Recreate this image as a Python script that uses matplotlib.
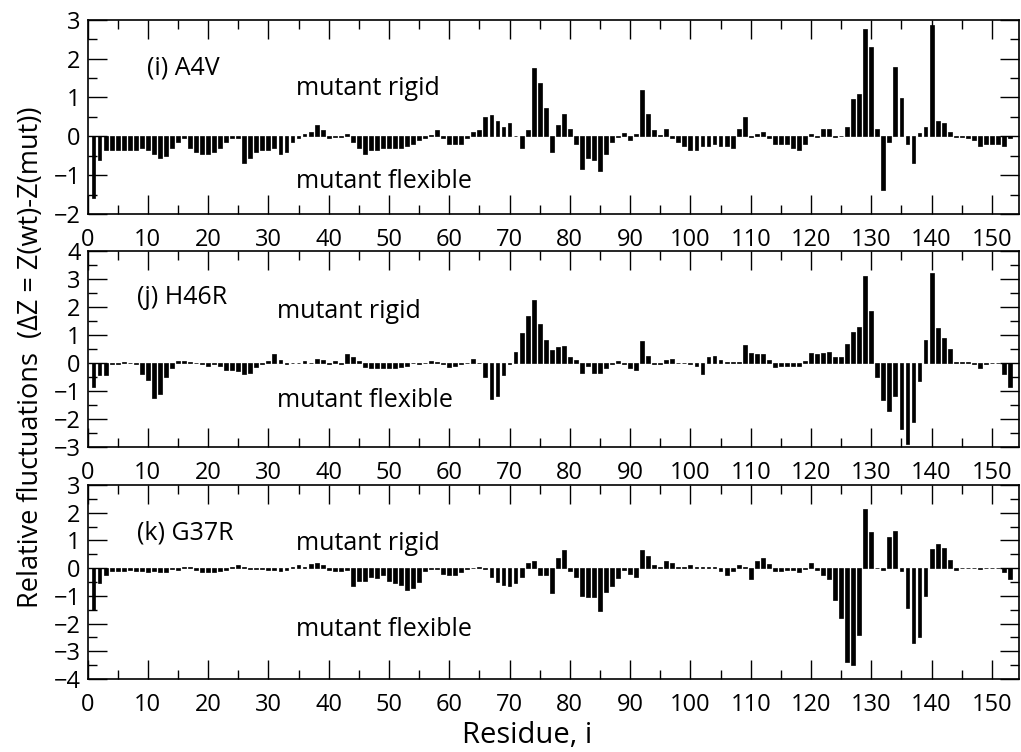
import matplotlib
matplotlib.use("Agg")
import matplotlib.pyplot as plt
from matplotlib.ticker import MultipleLocator
import numpy as np

plt.rcParams['font.family'] = ['Open Sans', 'DejaVu Sans']

residues = np.arange(1, 154)

# (i) A4V
dz_a4v = [
    -1.6, -0.6, -0.35, -0.35, -0.35, -0.35, -0.35, -0.35, -0.3, -0.35,
    -0.45, -0.55, -0.5, -0.3, -0.15, -0.05, -0.3, -0.4, -0.45, -0.45,
    -0.4, -0.3, -0.15, -0.05, -0.05, -0.7, -0.55, -0.4, -0.35, -0.35,
    -0.3, -0.45, -0.4, -0.15, -0.05, 0.05, 0.1, 0.3, 0.15, -0.05,
    -0.03, -0.03, 0.05, -0.15, -0.3, -0.45, -0.35, -0.35, -0.3, -0.3,
    -0.3, -0.3, -0.25, -0.2, -0.1, -0.05, 0.03, 0.15, -0.05, -0.2,
    -0.2, -0.2, -0.05, 0.1, 0.15, 0.5, 0.55, 0.4, 0.25, 0.35,
    0.02, -0.3, 0.15, 1.77, 1.37, 0.73, -0.4, 0.3, 0.57, 0.2,
    -0.2, -0.84, -0.55, -0.6, -0.9, -0.45, -0.15, -0.02, 0.08, -0.1,
    0.07, 1.18, 0.57, 0.15, 0.03, 0.2, -0.05, -0.15, -0.25, -0.35,
    -0.35, -0.25, -0.25, -0.2, -0.25, -0.25, -0.3, 0.2, 0.5, -0.02,
    0.05, 0.1, -0.05, -0.2, -0.2, -0.2, -0.3, -0.35, -0.2, 0.05,
    -0.02, 0.2, 0.2, -0.02, 0.02, 0.25, 0.96, 1.1, 2.77, 2.31,
    0.2, -1.37, -0.15, 1.78, 0.99, -0.2, -0.69, 0.08, 0.25, 2.87,
    0.4, 0.35, 0.1, -0.02, -0.03, -0.05, -0.1, -0.25, -0.2, -0.2,
    -0.2, -0.25, -0.05,
]

# (j) H46R
dz_h46r = [
    -0.88, -0.45, -0.45, -0.05, -0.03, 0.02, -0.02, -0.05, -0.4, -0.6,
    -1.25, -1.1, -0.5, -0.2, 0.05, 0.08, 0.03, -0.02, -0.03, -0.1,
    -0.05, -0.1, -0.25, -0.25, -0.3, -0.4, -0.35, -0.15, -0.05, 0.05,
    0.3, 0.1, -0.03, -0.02, -0.02, 0.08, -0.02, 0.15, 0.1, -0.05,
    0.05, -0.05, 0.3, 0.2, 0.05, -0.15, -0.2, -0.2, -0.2, -0.2,
    -0.2, -0.15, -0.1, -0.02, -0.05, -0.02, 0.05, 0.03, -0.05, -0.15,
    -0.1, -0.05, -0.02, 0.15, -0.02, -0.5, -1.28, -1.2, -0.45, -0.05,
    0.4, 1.07, 1.69, 2.25, 1.4, 0.8, 0.45, 0.55, 0.6, 0.2,
    0.1, -0.35, -0.1, -0.35, -0.35, -0.2, -0.05, 0.08, -0.05, -0.2,
    -0.25, 0.77, 0.25, -0.03, -0.05, 0.1, 0.15, -0.02, -0.02, -0.03,
    -0.1, -0.4, 0.2, 0.25, 0.1, 0.02, 0.02, 0.02, 0.65, 0.35,
    0.3, 0.3, 0.1, -0.15, -0.1, -0.1, -0.1, -0.1, 0.05, 0.35,
    0.3, 0.35, 0.4, 0.2, 0.2, 0.68, 1.12, 1.28, 3.12, 1.87,
    -0.51, -1.32, -1.73, -1.19, -2.37, -2.9, -2.1, -0.65, 0.82, 3.2,
    1.25, 0.9, 0.49, 0.03, 0.03, 0.02, -0.03, -0.19, -0.05, -0.02,
    -0.02, -0.39, -0.87,
]

# (k) G37R
dz_g37r = [
    -1.5, -0.55, -0.25, -0.1, -0.1, -0.1, -0.08, -0.1, -0.1, -0.12,
    -0.1, -0.15, -0.12, -0.03, -0.05, 0.05, 0.03, -0.05, -0.12, -0.15,
    -0.12, -0.1, -0.05, 0.05, 0.12, 0.05, -0.02, -0.03, -0.03, -0.05,
    -0.05, -0.1, -0.05, 0.05, 0.1, 0.03, 0.15, 0.2, 0.1, -0.05,
    -0.1, -0.1, -0.05, -0.64, -0.45, -0.45, -0.3, -0.35, -0.25, -0.45,
    -0.55, -0.6, -0.8, -0.7, -0.5, -0.1, -0.02, -0.02, -0.2, -0.25,
    -0.25, -0.15, -0.02, 0.02, 0.03, -0.03, -0.3, -0.5, -0.6, -0.65,
    -0.55, -0.3, 0.2, 0.25, -0.25, -0.25, -0.88, 0.38, 0.65, -0.1,
    -0.3, -1.0, -1.05, -1.05, -1.55, -0.85, -0.65, -0.35, -0.05, -0.2,
    -0.3, 0.65, 0.45, 0.1, 0.03, 0.25, 0.2, 0.03, 0.03, 0.1,
    0.05, 0.05, 0.05, 0.05, -0.1, -0.25, -0.1, 0.1, 0.03, -0.4,
    0.25, 0.35, 0.15, -0.1, -0.1, -0.05, -0.05, -0.15, -0.02, 0.2,
    -0.05, -0.25, -0.4, -1.15, -1.8, -3.4, -3.5, -2.4, 2.13, 1.3,
    0.02, -0.05, 1.13, 1.35, -0.1, -1.45, -2.7, -2.5, -1.0, 0.7,
    0.88, 0.74, 0.3, -0.05, 0.02, 0.02, 0.02, -0.03, 0.02, 0.02,
    0.02, -0.15, -0.4,
]

panels = [
    ("(i) A4V", dz_a4v, (-2, 3), [0.9738, 0.7154], (0.064, 0.751), (0.648, 0.165)),
    ("(j) H46R", dz_h46r, (-3, 4), [0.6662, 0.406], (0.053, 0.76), (0.693, 0.234)),
    ("(k) G37R", dz_g37r, (-4, 3), [0.355, 0.097], (0.053, 0.753), (0.70, 0.253)),
]

fig = plt.figure(figsize=(10.21, 7.52), dpi=100)
left, right = 87.5 / 1021, 1019 / 1021

for i, (name, vals, ylim, (top, bot), lab_pos, (rig_y, flex_y)) in enumerate(panels):
    ax = fig.add_axes([left, bot, right - left, top - bot])
    ax.bar(residues, vals, width=0.64, color='black', edgecolor='black', linewidth=0.5)
    ax.set_xlim(0, 154.5)
    ax.set_ylim(*ylim)
    ax.xaxis.set_major_locator(MultipleLocator(10))
    ax.xaxis.set_minor_locator(MultipleLocator(5))
    ax.yaxis.set_major_locator(MultipleLocator(1))
    ax.yaxis.set_minor_locator(MultipleLocator(0.5))
    ax.tick_params(which='both', direction='in', top=True, right=True, width=1.0)
    ax.tick_params(which='major', length=13.5, labelsize=17)
    ax.tick_params(which='minor', length=6.5)
    ax.tick_params(axis='x', pad=10)
    ax.tick_params(axis='y', pad=5)
    for sp in ax.spines.values():
        sp.set_linewidth(1.2)

    rig_x = 0.224 if i != 1 else 0.203
    ax.text(lab_pos[0], lab_pos[1], name, transform=ax.transAxes, fontsize=18, va='center')
    ax.text(rig_x, rig_y, "mutant rigid", transform=ax.transAxes, fontsize=18, va='center')
    ax.text(rig_x, flex_y, "mutant flexible", transform=ax.transAxes, fontsize=18, va='center')

fig.text(0.03, 0.525, "Relative fluctuations  (ΔZ = Z(wt)-Z(mut))", rotation=90,
         fontsize=19.5, ha='center', va='center')
fig.text(0.516, 0.0226, "Residue, i", fontsize=21, ha='center', va='center')

fig.savefig("out.png", dpi=100)
